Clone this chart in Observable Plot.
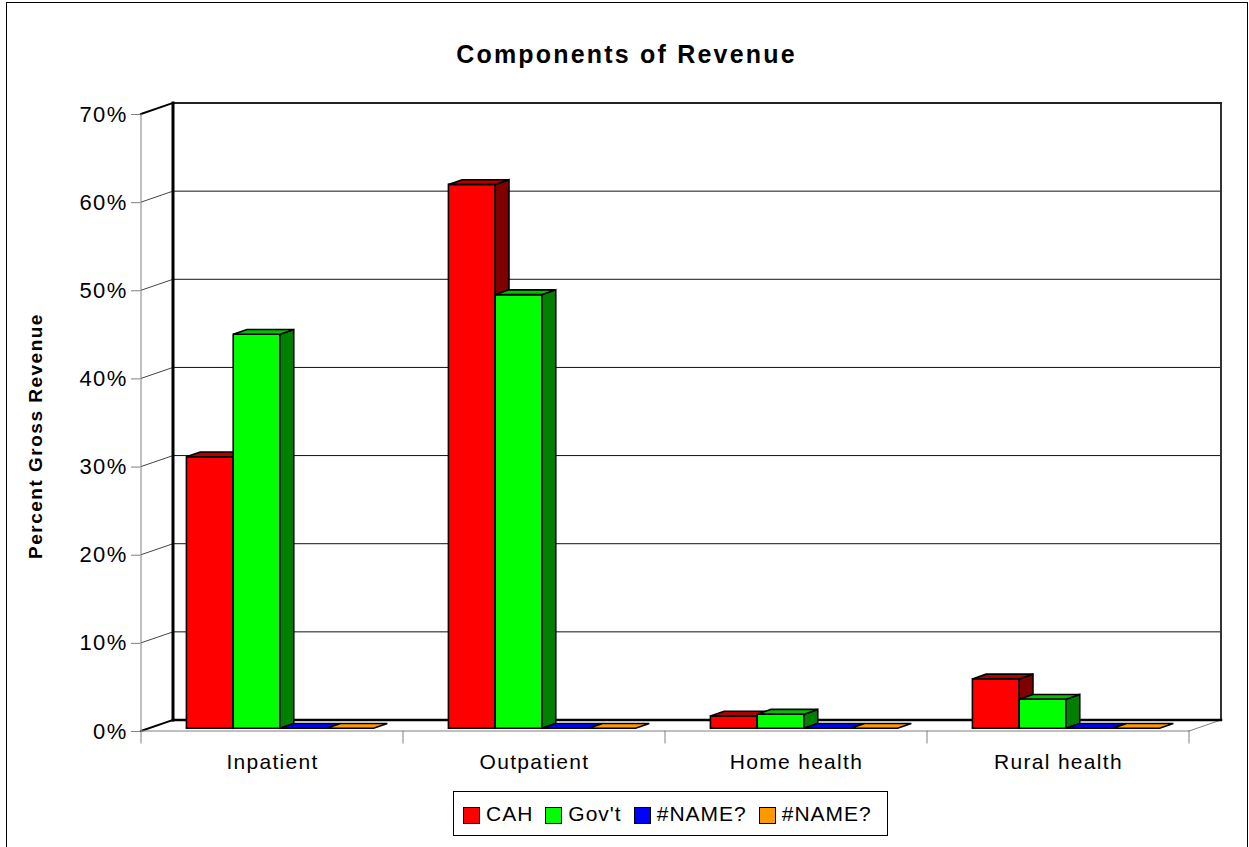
<!DOCTYPE html>
<html>
<head>
<meta charset="utf-8">
<script src="https://cdn.jsdelivr.net/npm/d3@7"></script>
<script src="https://cdn.jsdelivr.net/npm/@observablehq/plot@0.6"></script>
<style>
  html, body { margin: 0; padding: 0; background: #fff; }
  body { font-family: Arial, "Liberation Sans", sans-serif; }
  #wrap { position: relative; width: 1249px; height: 847px; overflow: hidden; background: #fff; }
  #frame { position: absolute; left: 6px; top: 2px; width: 1242px; height: 900px; border: 1.5px solid #000; box-sizing: border-box; }
  #chart { position: absolute; left: 0; top: 0; }
  #title { position: absolute; left: 2px; top: 42px; width: 1249px; text-align: center; font-size: 25px; line-height: 25px; font-weight: bold; letter-spacing: 2.2px; color: #000; }
  #ytitle { position: absolute; left: 36px; top: 436px; transform: translate(-50%, -50%) rotate(-90deg); white-space: nowrap; font-size: 19px; font-weight: bold; letter-spacing: 1.5px; color: #000; }
  #legend { position: absolute; left: 453px; top: 791px; width: 435px; height: 45px; border: 1px solid #000; box-sizing: border-box; display: flex; align-items: center; padding-left: 9px; }
  .item { display: flex; align-items: center; margin-right: 12px; font-size: 21px; letter-spacing: 1px; }
  .sw { width: 15px; height: 15px; border: 1px solid #000; margin-right: 6px; margin-top: 4px; }
  .chart3d text { letter-spacing: 1.3px; }
</style>
</head>
<body>
<div id="wrap">
  <div id="frame"></div>
  <div id="chart"></div>
  <div id="title"></div>
  <div id="ytitle"></div>
  <div id="legend"></div>
</div>
<script>
// ---- data ----
const titleText = "Components of Revenue";
const yTitle = "Percent Gross Revenue";
const categories = ["Inpatient", "Outpatient", "Home health", "Rural health"];
const seriesLabels = ["CAH", "Gov't", "#NAME?", "#NAME?"];
const cahValues = [0.308, 0.617, 0.014, 0.056];
const govtValues = [0.447, 0.492, 0.016, 0.033];
const name1Values = [0, 0, 0, 0];
const name2Values = [0, 0, 0, 0];
const yTicks = [0, 0.1, 0.2, 0.3, 0.4, 0.5, 0.6, 0.7];

// ---- styles ----
const frontColors = ["#FF0000", "#00FF00", "#0000FF", "#FF9900"];
const sideColors = ["#800000", "#008000", "#000080", "#996600"];
const topColors = ["#B00000", "#00C000", "#0000C0", "#C07800"];

const seriesValues = [cahValues, govtValues, name1Values, name2Values];
const rows = categories.flatMap((c, i) =>
  seriesValues.map((vals, j) => ({category: c, series: j, label: seriesLabels[j], value: vals[i]})));
const yMax = yTicks[yTicks.length - 1];

function scene3d(...args) {
  const sc = args.find(a => a && typeof a.x === "function" && typeof a.y === "function");
  const X = sc.x, Y = sc.y;
  const x0 = X(categories[0]);
  const step = X(categories[1]) - x0;
  const xEnd = x0 + step * categories.length;
  const yBase = Y(0), yTop = Y(yMax);
  const DX = 32, DY = -11;
  const g = d3.create("svg:g");
  const line = (x1, y1, x2, y2, stroke, w) =>
    g.append("line").attr("x1", x1).attr("y1", y1).attr("x2", x2).attr("y2", y2)
      .attr("stroke", stroke).attr("stroke-width", w).attr("stroke-linecap", "square");
  const poly = (pts, fill) =>
    g.append("path").attr("d", "M" + pts.map(p => p.join(",")).join("L") + "Z")
      .attr("fill", fill).attr("stroke", "#000").attr("stroke-width", 1.6).attr("stroke-linejoin", "miter");

  // back wall gridlines
  for (const t of yTicks) if (t > 0 && t < yMax) line(x0 + DX, Y(t) + DY, xEnd + DX, Y(t) + DY, "#111", 1);
  // side wall diagonals
  for (const t of yTicks) {
    const strong = t === 0 || t === yMax;
    line(x0, Y(t), x0 + DX, Y(t) + DY, strong ? "#000" : "#444", strong ? 2 : 1);
  }
  line(x0, yTop, x0, yBase, "#808080", 1);
  line(x0, yBase, xEnd, yBase, "#808080", 1);
  line(xEnd, yBase, xEnd + DX, yBase + DY, "#808080", 1);
  line(xEnd + DX, yTop + DY, xEnd + DX, yBase + DY, "#333", 2);
  line(x0 + DX, yTop + DY, xEnd + DX, yTop + DY, "#222", 2);
  line(x0 + DX, yTop + DY, x0 + DX, yBase + DY, "#000", 3);
  line(x0 + DX, yBase + DY, xEnd + DX, yBase + DY, "#000", 2.5);
  for (let i = 0; i <= categories.length; i++) line(x0 + i * step, yBase, x0 + i * step, yBase + 12, "#808080", 1);

  // bars
  const inner = d3.scaleBand().domain(d3.range(seriesLabels.length)).range([0, step]).paddingInner(0).paddingOuter(0.8);
  const f0 = 0.25, f1 = 0.68;
  const ddx = DX * (f1 - f0), ddy = DY * (f1 - f0);
  for (const r of rows) {
    const xl = X(r.category) + inner(r.series) + DX * f0;
    const xr = xl + inner.bandwidth();
    const yb = Y(0) + DY * f0;
    const yt = Y(r.value) + DY * f0;
    if (r.value > 0) {
      poly([[xl, yb], [xr, yb], [xr, yt], [xl, yt]], frontColors[r.series]);
      poly([[xr, yb], [xr + ddx, yb + ddy], [xr + ddx, yt + ddy], [xr, yt]], sideColors[r.series]);
    }
    poly([[xl, yt], [xr, yt], [xr + ddx, yt + ddy], [xl + ddx, yt + ddy]], r.value > 0 ? topColors[r.series] : frontColors[r.series]);
  }
  return g.node();
}

const chart = Plot.plot({
  width: 1249,
  height: 847,
  marginLeft: 140,
  marginRight: 59,
  marginTop: 114,
  marginBottom: 116,
  className: "chart3d",
  style: {fontFamily: "Arial, 'Liberation Sans', sans-serif", background: "transparent", color: "#000"},
  x: {type: "band", domain: categories, padding: 0, label: null},
  y: {domain: [0, yMax], label: null},
  marks: [
    scene3d,
    Plot.axisY({ticks: yTicks, tickFormat: d => `${Math.round(d * 100)}%`, tickSize: 9, tickPadding: 4, fontSize: 22, stroke: "#808080", fill: "#000", label: null}),
    Plot.axisX({tickSize: 0, tickPadding: 23, fontSize: 21, fill: "#000", label: null})
  ]
});

document.getElementById("chart").appendChild(chart);
document.getElementById("title").textContent = titleText;
document.getElementById("ytitle").textContent = yTitle;

const legend = document.getElementById("legend");
seriesLabels.forEach((lab, j) => {
  const item = document.createElement("div");
  item.className = "item";
  const sw = document.createElement("div");
  sw.className = "sw";
  sw.style.background = frontColors[j];
  const t = document.createElement("span");
  t.textContent = lab;
  item.appendChild(sw);
  item.appendChild(t);
  legend.appendChild(item);
});
</script>
</body>
</html>
